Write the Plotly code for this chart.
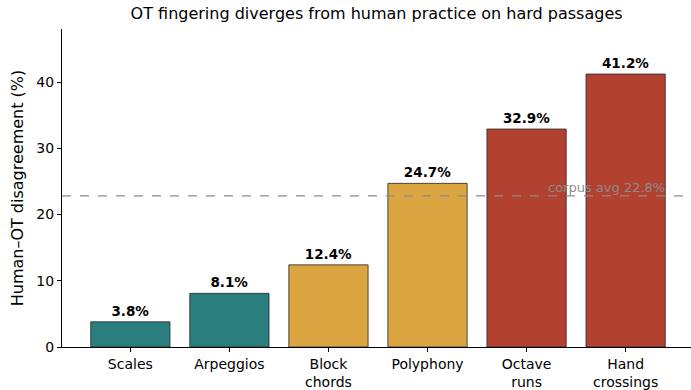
import plotly.graph_objects as go

categories = ["Scales", "Arpeggios", "Block<br>chords", "Polyphony", "Octave<br>runs", "Hand<br>crossings"]
disagreement = [3.8, 8.1, 12.4, 24.7, 32.9, 41.2]
bar_colors = ["#2a7f7e", "#2a7f7e", "#dba541", "#dba541", "#b34130", "#b34130"]
corpus_avg = 22.8
y_ticks = [0, 10, 20, 30, 40]

FONT = "DejaVu Sans"

fig = go.Figure()
fig.add_trace(go.Bar(
    x=list(range(len(categories))),
    y=disagreement,
    width=0.8,
    marker=dict(color=bar_colors, line=dict(color="#262626", width=0.8)),
    text=[f"<b>{v:.1f}%</b>" for v in disagreement],
    textposition="outside",
    textfont=dict(family=FONT, size=13.5, color="black"),
    cliponaxis=False,
    hoverinfo="skip",
))

fig.add_shape(type="line", xref="paper", x0=0, x1=1, yref="y", y0=corpus_avg, y1=corpus_avg,
              line=dict(color="#8c8c8c", width=1.3, dash="dash"), layer="above")
fig.add_annotation(x=5.42, y=corpus_avg, xref="x", yref="y", text=f"corpus avg {corpus_avg}%",
                   showarrow=False, xanchor="right", yanchor="bottom", yshift=-1,
                   font=dict(family=FONT, size=13, color="#8c8c8c"))

fig.update_layout(
    width=691, height=390,
    margin=dict(l=62, r=0, t=29, b=43),
    paper_bgcolor="white", plot_bgcolor="white",
    showlegend=False,
    bargap=0.2,
    font=dict(family=FONT, size=14, color="black"),
    title=dict(text="OT fingering diverges from human practice on hard passages",
               x=0.545, xanchor="center", y=0.98, yanchor="top",
               font=dict(family=FONT, size=16, color="black")),
)
fig.update_xaxes(
    range=[-0.69, 5.66],
    tickmode="array", tickvals=list(range(len(categories))), ticktext=categories,
    showline=True, linecolor="black", linewidth=1,
    ticks="outside", ticklen=4, tickcolor="black",
    showgrid=False, zeroline=False,
    tickfont=dict(family=FONT, size=14),
)
fig.update_yaxes(
    range=[0, 48],
    tickmode="array", tickvals=y_ticks,
    showline=True, linecolor="black", linewidth=1,
    ticks="outside", ticklen=4, tickcolor="black",
    showgrid=False, zeroline=False,
    tickfont=dict(family=FONT, size=14),
    title=dict(text="Human–OT disagreement (%)", font=dict(family=FONT, size=16), standoff=8),
)

fig.write_html("out.html")
